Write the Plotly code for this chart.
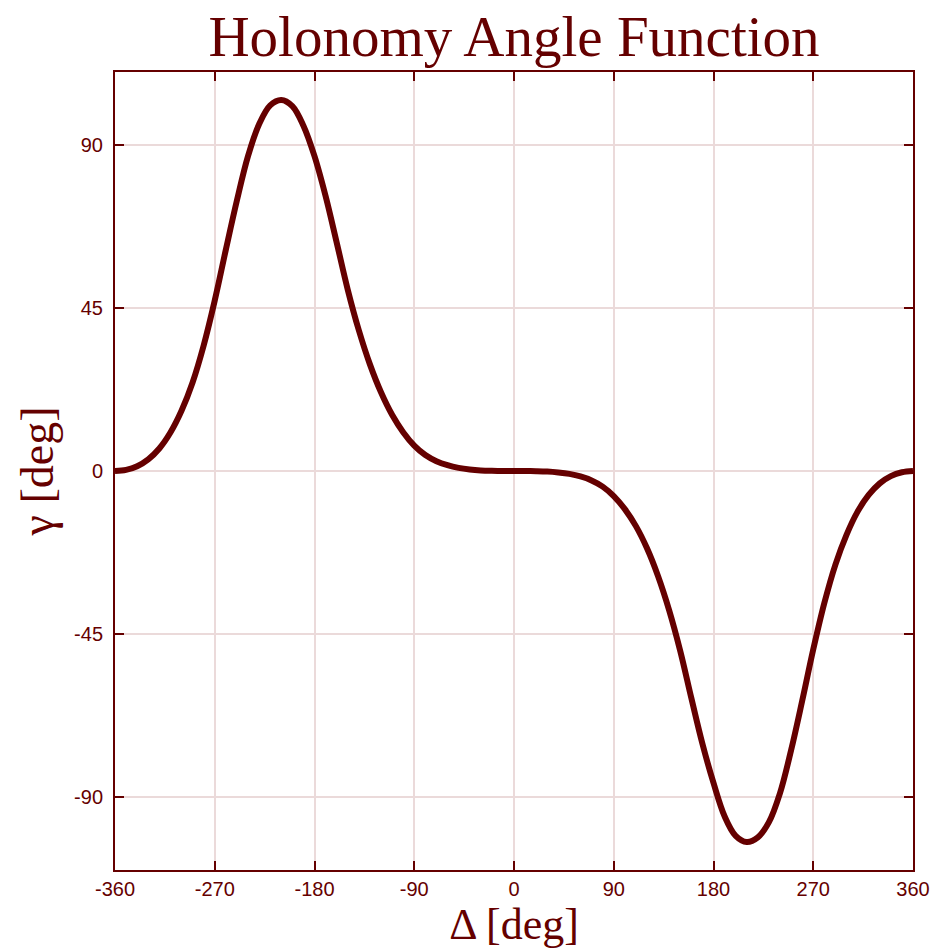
import plotly.graph_objects as go

# Phase difference Delta (deg) and holonomy angle gamma (deg)
delta_deg = list(range(-360, 361, 10))
gamma_deg = [
    0.0, 0.3, 1.3, 3.2, 6.2, 10.6, 16.6, 24.4, 34.6, 47.0,      # -360 .. -270
    61.0, 74.6, 86.8, 95.6, 100.8, 102.3, 100.6, 95.2, 86.8, 75.8,  # -260 .. -170
    63.0, 50.0, 38.8, 29.4, 21.7, 15.5, 10.7, 7.0, 4.4, 2.7,    # -160 .. -70
    1.6, 0.85, 0.4, 0.15, 0.05, 0.01,                           # -60 .. -10
    0.0,                                                        # 0
    -0.01, -0.05, -0.15, -0.4, -0.8, -1.5, -2.6, -4.3, -6.9,    # 10 .. 90
    -10.5, -15.2, -21.3, -29.0, -38.4, -49.6, -62.6, -75.2, -86.0,  # 100 .. 180
    -95.2, -100.6, -102.3, -101.0, -96.8, -88.8, -77.0, -63.4, -49.2,  # 190 .. 270
    -36.4, -25.8, -17.6, -11.2, -6.6, -3.4, -1.4, -0.35, 0.0,   # 280 .. 360
]

x_ticks = [-360, -270, -180, -90, 0, 90, 180, 270, 360]
y_ticks = [-90, -45, 0, 45, 90]

DARK = "#650000"
GRID = "#ebdada"
SERIF = "Liberation Serif, Times New Roman, serif"
SANS = "Liberation Sans, Arial, sans-serif"

fig = go.Figure()
fig.add_trace(go.Scatter(
    x=delta_deg, y=gamma_deg, mode="lines",
    line=dict(color=DARK, width=6, shape="spline", smoothing=1.0),
    showlegend=False, hoverinfo="skip",
))

axis_common = dict(
    showline=True, linecolor=DARK, linewidth=2, mirror="ticks",
    ticks="inside", ticklen=9, tickwidth=2, tickcolor=DARK,
    showgrid=True, gridcolor=GRID, gridwidth=2, zeroline=False,
    tickfont=dict(family=SANS, size=20, color=DARK),
    automargin=False, ticklabeloverflow="allow",
)

fig.update_xaxes(
    range=[-360, 360], tickvals=x_ticks, ticktext=[str(v) for v in x_ticks],
    title=dict(text="Δ [deg]", font=dict(family=SERIF, size=44, color=DARK), standoff=18),
    ticklabelstandoff=0,
    **axis_common,
)
fig.update_yaxes(
    range=[-110, 110], tickvals=y_ticks, ticktext=[str(v) for v in y_ticks],
    title=dict(text="γ [deg]", font=dict(family=SERIF, size=46, color=DARK), standoff=6),
    ticklabelstandoff=6,
    **axis_common,
)

fig.update_layout(
    width=935, height=949,
    margin=dict(l=115, r=22, t=72, b=79),
    paper_bgcolor="white", plot_bgcolor="white",
    title=dict(text="Holonomy Angle Function",
               font=dict(family=SERIF, size=57, color=DARK),
               x=0.5, xref="paper", xanchor="center",
               y=1 - 36 / 949, yref="container", yanchor="middle"),
)

fig.write_html("out.html")
